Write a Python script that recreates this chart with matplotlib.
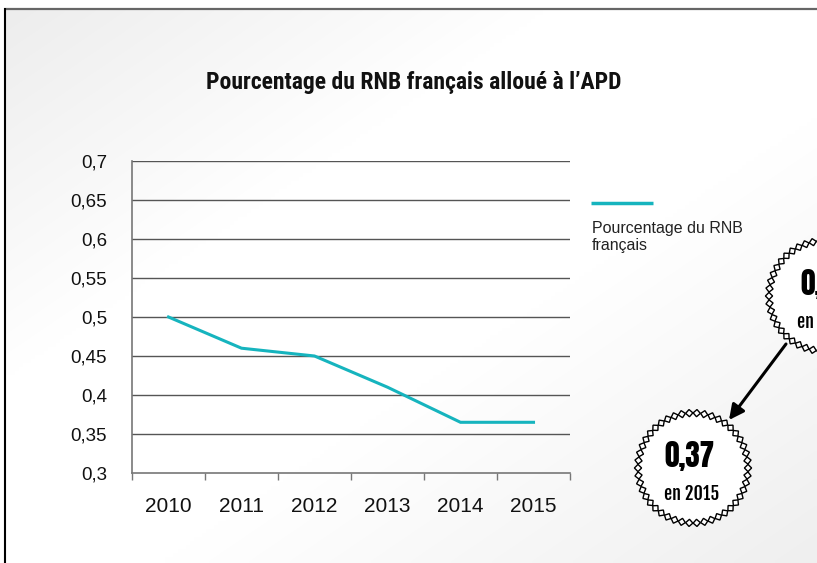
import numpy as np
import matplotlib
matplotlib.use("Agg")
import matplotlib.pyplot as plt
from matplotlib.patches import Polygon, Circle

# ---- data ----
years = ["2010", "2011", "2012", "2013", "2014", "2015"]
pct_rnb = [0.50, 0.46, 0.45, 0.41, 0.365, 0.365]
y_ticks = [0.3, 0.35, 0.4, 0.45, 0.5, 0.55, 0.6, 0.65, 0.7]
y_tick_labels = ["0,3", "0,35", "0,4", "0,45", "0,5", "0,55", "0,6", "0,65", "0,7"]
title = "Pourcentage du RNB français alloué à l’APD"
series_label = "Pourcentage du RNB\nfrançais"
badge_main = ["0,37", "en 2015"]
badge_prev = ["0,50", "en 2010"]

W, H = 817, 563
TEAL = "#16b4be"
SANS = ["Liberation Sans", "DejaVu Sans"]
fig = plt.figure(figsize=(W / 100, H / 100), dpi=100)
fig.patch.set_facecolor("white")

# ---- background with subtle diagonal gradient and frame ----
bg = fig.add_axes([0, 0, 1, 1], zorder=0)
bg.axis("off")
xx, yy = np.meshgrid(np.linspace(0, 1, 200), np.linspace(0, 1, 140))
t = (xx + yy) / 2
g = 255 - 18 * np.clip((0.33 - t) / 0.33, 0, 1) - 16 * np.clip((t - 0.6) / 0.4, 0, 1)
img = np.dstack([g, g, g]) / 255.0
bg.imshow(img, extent=(5, W, H, 9), aspect="auto", interpolation="bilinear")
bg.plot([4, W], [8.5, 8.5], color="#666666", lw=1.6, solid_capstyle="butt")
bg.plot([5, 5], [8, H], color="black", lw=1.5, solid_capstyle="butt")
bg.set_xlim(0, W)
bg.set_ylim(H, 0)

# ---- main chart ----
ax = fig.add_axes([132 / W, 1 - 473 / H, 438 / W, 312 / H], zorder=1)
ax.set_facecolor("none")
x = np.arange(len(years))
ax.plot(x, pct_rnb, color=TEAL, lw=2.2, solid_joinstyle="miter")
ax.set_xlim(-0.5, len(years) - 0.5)
ax.set_ylim(0.3, 0.7)
ax.set_yticks(y_ticks)
ax.set_yticklabels(y_tick_labels, fontsize=13.5, family=SANS, color="#111111")
ax.set_xticks(x)
ax.set_xticklabels(years, fontsize=15, family=SANS, color="#111111")
ax.set_xticks(np.arange(-0.5, len(years)), minor=True)
ax.tick_params(axis="x", which="major", length=0, pad=17)
ax.tick_params(axis="x", which="minor", length=5, width=1, color="#777777", direction="out")
ax.tick_params(axis="y", length=0, pad=18)
for v in y_ticks[1:]:
    ax.axhline(v, color="#555555", lw=1, zorder=0)
ax.spines["right"].set_visible(False)
ax.spines["top"].set_visible(False)
ax.spines["left"].set_color("#777777")
ax.spines["bottom"].set_color("#777777")
ax.spines["left"].set_linewidth(1.2)
ax.spines["bottom"].set_linewidth(1.2)

# ---- overlay (title, legend, badges) ----
ov = fig.add_axes([0, 0, 1, 1], zorder=2)
ov.set_facecolor("none")
ov.set_xlim(0, W)
ov.set_ylim(H, 0)
ov.axis("off")

ov.text(414, 82, title, ha="center", va="center", fontsize=17,
        family=["Roboto Condensed", "DejaVu Sans"], fontweight="bold", color="#111111")

ov.plot([591, 653], [203, 203], color=TEAL, lw=2.5, solid_capstyle="butt")
ov.text(592, 237, series_label, ha="left", va="center", fontsize=11.5,
        family=SANS, color="#222222", linespacing=1.15)


def badge(cx, cy, texts, dx=0.0, r=55, n=46, d=3.6):
    ov.add_patch(Circle((cx, cy), r, facecolor="white", edgecolor="none", zorder=3, clip_on=False))
    for k in range(n):
        a = 2 * np.pi * k / n
        ux, uy = np.cos(a), np.sin(a)
        tx, ty = -uy, ux
        px, py = cx + r * ux, cy + r * uy
        pts = [(px + d * tx, py + d * ty), (px + d * ux, py + d * uy),
               (px - d * tx, py - d * ty), (px - d * ux, py - d * uy)]
        ov.add_patch(Polygon(pts, closed=True, facecolor="white", edgecolor="black",
                             lw=1.0, zorder=4, clip_on=False))
    ov.text(cx + dx, cy - 12, texts[0], ha="center", va="center", fontsize=21,
            family=["Anton", "DejaVu Sans"], color="black", zorder=5)
    ov.text(cx + dx / 4, cy + 26, texts[1], ha="center", va="center", fontsize=13,
            family=["Fjalla One", "DejaVu Sans"], color="black", zorder=5)


badge(693, 468, badge_main, dx=-4)
badge(824, 296, badge_prev, dx=2)

ov.annotate("", xy=(729, 420), xytext=(786, 344),
            arrowprops=dict(arrowstyle="-|>,head_length=0.9,head_width=0.45", lw=2.2,
                            color="black", shrinkA=0, shrinkB=0), zorder=6)

fig.savefig("out.png", dpi=100)
